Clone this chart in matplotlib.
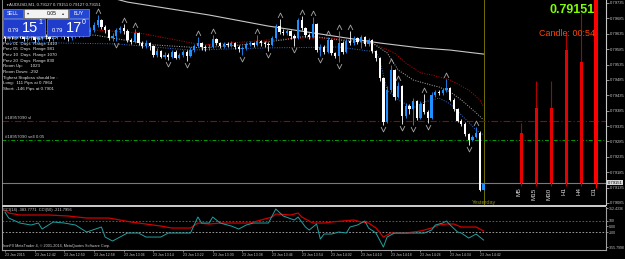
import matplotlib
matplotlib.use("Agg")
import matplotlib.pyplot as plt
from matplotlib.patches import Rectangle
from matplotlib.path import Path

plt.rcParams['font.family'] = ['Liberation Sans', 'DejaVu Sans']

W, H = 625, 259

# AUDUSD M1, 23 Jan 2015, first bar 12:34 - prices in points (0.00001)
first_open = 79625
closes = [79621, 79628, 79625, 79631, 79628, 79618, 79621, 79625, 79615, 79621,
          79628, 79625, 79618, 79621, 79628, 79631, 79625, 79621, 79628, 79634,
          79631, 79638, 79641, 79647, 79664, 79680, 79657, 79647, 79621, 79628,
          79647, 79654, 79644, 79615, 79608, 79638, 79605, 79595, 79605, 79595,
          79566, 79579, 79560, 79566, 79560, 79576, 79556, 79566, 79576, 79563,
          79582, 79595, 79605, 79592, 79589, 79592, 79618, 79605, 79595, 79602,
          79599, 79605, 79592, 79586, 79589, 79602, 79605, 79599, 79612, 79605,
          79602, 79599, 79621, 79660, 79641, 79638, 79644, 79628, 79621, 79680,
          79654, 79631, 79625, 79667, 79582, 79592, 79576, 79615, 79573, 79563,
          79605, 79576, 79612, 79605, 79621, 79608, 79625, 79602, 79615, 79579,
          79556, 79491, 79348, 79452, 79517, 79430, 79465, 79368, 79400, 79391,
          79417, 79361, 79407, 79381, 79361, 79436, 79446, 79443, 79452, 79459,
          79420, 79391, 79352, 79342, 79309, 79290, 79300, 79312, 79127, 79151]
highs = [79634, 79634, 79634, 79638, 79638, 79634, 79628, 79631, 79628, 79628,
         79634, 79634, 79631, 79628, 79638, 79641, 79638, 79631, 79634, 79644,
         79641, 79647, 79651, 79657, 79673, 79696, 79683, 79664, 79651, 79638,
         79654, 79660, 79667, 79651, 79621, 79651, 79641, 79612, 79615, 79608,
         79599, 79589, 79582, 79576, 79573, 79582, 79582, 79573, 79582, 79582,
         79592, 79602, 79625, 79608, 79599, 79602, 79631, 79621, 79608, 79608,
         79608, 79612, 79608, 79599, 79595, 79608, 79612, 79608, 79631, 79615,
         79612, 79608, 79628, 79667, 79683, 79651, 79651, 79647, 79634, 79686,
         79693, 79657, 79638, 79690, 79670, 79602, 79599, 79625, 79618, 79576,
         79644, 79612, 79618, 79644, 79628, 79625, 79631, 79628, 79621, 79618,
         79582, 79560, 79495, 79465, 79534, 79521, 79478, 79468, 79410, 79407,
         79426, 79420, 79417, 79439, 79387, 79446, 79452, 79452, 79459, 79488,
         79462, 79426, 79394, 79358, 79348, 79312, 79306, 79332, 79319, 79151]
lows = [79612, 79615, 79618, 79618, 79621, 79612, 79612, 79615, 79608, 79608,
        79615, 79618, 79612, 79612, 79618, 79621, 79618, 79612, 79615, 79621,
        79625, 79625, 79631, 79634, 79641, 79657, 79651, 79638, 79615, 79612,
        79612, 79638, 79634, 79608, 79602, 79605, 79599, 79589, 79589, 79582,
        79560, 79560, 79556, 79553, 79550, 79556, 79553, 79553, 79560, 79547,
        79560, 79576, 79592, 79582, 79579, 79582, 79589, 79599, 79589, 79589,
        79592, 79592, 79586, 79576, 79566, 79582, 79595, 79592, 79595, 79595,
        79592, 79579, 79595, 79618, 79634, 79631, 79631, 79618, 79595, 79618,
        79647, 79625, 79618, 79621, 79576, 79563, 79569, 79573, 79566, 79556,
        79543, 79569, 79573, 79599, 79599, 79602, 79589, 79595, 79595, 79573,
        79547, 79481, 79338, 79345, 79446, 79420, 79426, 79342, 79361, 79374,
        79338, 79355, 79358, 79374, 79345, 79358, 79430, 79436, 79436, 79446,
        79417, 79384, 79348, 79335, 79303, 79274, 79287, 79296, 79124, 79127]
opens = [first_open] + closes[:-1]

up_fractals = [25, 32, 35, 52, 56, 68, 74, 80, 83, 87, 90, 93, 104, 106, 113, 119, 127]
down_fractals = [30, 44, 49, 64, 71, 78, 85, 90, 102, 107, 110, 114, 125]

slow_ma_bar = [28, 33, 55, 71, 90, 101, 112, 120, 129]
slow_ma = [79754, 79738, 79696, 79660, 79625, 79605, 79589, 79582, 79569]

upper_bar = [0, 24, 36, 53, 61, 71, 80, 88, 93, 99, 105, 108, 112, 115, 120, 125, 128, 129]
upper = [79638, 79647, 79638, 79599, 79605, 79615, 79621, 79621, 79615, 79605,
         79573, 79540, 79508, 79501, 79485, 79452, 79420, 79397]
middle_bar = [0, 24, 40, 53, 64, 75, 80, 84, 90, 99, 103, 106, 110, 112, 115, 117, 120, 123, 127, 129]
middle = [79621, 79631, 79599, 79589, 79599, 79615, 79625, 79625, 79615, 79605,
          79573, 79517, 79485, 79478, 79468, 79462, 79446, 79420, 79378, 79355]
lower_bar = [0, 30, 50, 70, 90, 100, 101, 103, 106, 110, 113, 117, 120, 123, 127, 129]
lower = [79608, 79602, 79582, 79589, 79592, 79576, 79550, 79452, 79420, 79394,
         79413, 79426, 79407, 79371, 79322, 79306]

cci50_bar = [0, 1, 4, 12, 17, 22, 28, 34, 36, 42, 45, 50, 52, 55, 58, 66, 68, 72, 73, 77,
             79, 80, 83, 86, 88, 91, 94, 96, 98, 100, 102, 104, 106, 108, 110, 112, 115,
             117, 119, 121, 123, 127, 129]
cci50 = [279, 228, 194, 194, 177, 143, 143, 75, 58, 7, -27, -27, 58, 41, 58, 58, 92, 160,
         211, 194, 228, 160, 58, 58, 75, 92, 109, 75, 58, -27, -180, -112, -112, -112,
         -95, -78, -27, 24, 41, 41, -10, -10, -78]
cci14_bar = [0, 1, 4, 7, 9, 10, 13, 16, 19, 22, 26, 27, 29, 31, 33, 36, 38, 42, 44, 47,
             50, 52, 53, 55, 56, 58, 61, 63, 65, 67, 71, 73, 75, 78, 79, 81, 82, 84, 85,
             86, 88, 90, 92, 93, 95, 97, 98, 100, 102, 103, 105, 106, 109, 113, 115, 116,
             118, 119, 120, 122, 123, 125, 127, 129]
cci14 = [245, 143, 58, 24, 58, -44, 75, 58, 24, -95, -10, -180, -248, -180, -112, -112,
         -180, -180, -112, -112, -112, 160, 58, 58, 160, 58, 7, -44, 24, 58, 58, 296, 177,
         109, 160, -10, -61, 41, -214, -129, -129, -95, -112, -10, 24, 92, -27, -112,
         -350, -180, -112, -112, -112, -112, -61, 24, 58, 92, 24, -95, -112, -197, -129,
         -231]

time_label_bars = [0, 8, 16, 24, 32, 40, 48, 56, 64, 72, 80, 88, 96, 104, 112, 120, 128]
time_labels = ["23 Jan 2015", "23 Jan 12:42", "23 Jan 12:50", "23 Jan 12:58", "23 Jan 13:06",
               "23 Jan 13:14", "23 Jan 13:22", "23 Jan 13:30", "23 Jan 13:38", "23 Jan 13:46",
               "23 Jan 13:54", "23 Jan 14:02", "23 Jan 14:10", "23 Jan 14:18", "23 Jan 14:26",
               "23 Jan 14:34", "23 Jan 14:42"]
price_ticks = [79735, 79685, 79635, 79585, 79535, 79485, 79435, 79385, 79335, 79285,
               79235, 79185, 79135, 79085]
cci_ticks = [312.4336, 100, 0, -100, -355.7998]
cci_tick_labels = ["312.4336", "100", "0.00", "-100", "-355.7998"]

tf_names = ["M5", "M15", "M30", "H1", "H4", "D1"]
tf_open = [79312, 79394, 79394, 79582, 79543, 79900]
tf_high = [79345, 79481, 79481, 79638, 79702, 79950]
tf_low = [79141, 79141, 79141, 79141, 79141, 79134]
tf_close = [79151, 79151, 79151, 79151, 79151, 79151]

sl_level = 79350
sell_level = 79290
bid = 79151

info_lines = ["Average Daily Range=1071", "Prev 01  Days  Range 1410", "Prev 05  Days  Range 981",
              "Prev 10  Days  Range 1070", "Prev 20  Days  Range 830", "Room Up:      1023",
              "Room Down: -292", "Tighest Stoploss should be :", "Long:  111 Pips at 0.7864",
              "Short: -146 Pips at 0.7901"]


def fx(x):
    return x / W


def fy(y):
    return 1 - y / H


fig = plt.figure(figsize=(W / 100, H / 100), dpi=100, facecolor='black')
ax = fig.add_axes([fx(2), fy(205), 604 / W, 205 / H], facecolor='black')
ax2 = fig.add_axes([fx(2), fy(250), 604 / W, 43 / H], facecolor='black')

# candles
for i in range(len(closes)):
    o, c = opens[i], closes[i]
    col = '#1e90ff' if c > o else 'white'
    ax.vlines(i, lows[i], highs[i], color=col, lw=0.6, zorder=3)
    ax.bar(i, max(abs(c - o), 1.5), bottom=min(o, c), width=0.62, color=col, lw=0, zorder=3)

# moving averages / bands
ax.plot(slow_ma_bar, slow_ma, color='#c8c8c8', lw=0.8, zorder=2)
ax.plot(upper_bar, upper, color='#d00000', lw=0.7, dashes=(1, 1.5), zorder=2)
ax.plot(middle_bar, middle, color='#b0b0b0', lw=0.7, dashes=(1, 1.5), zorder=2)
ax.plot(lower_bar, lower, color='#3070d0', lw=0.7, dashes=(1, 1.5), zorder=2)

# fractals
up_mk = Path([(-1, -1), (0, 1), (1, -1)], [Path.MOVETO, Path.LINETO, Path.LINETO])
dn_mk = Path([(-1, 1), (0, -1), (1, 1)], [Path.MOVETO, Path.LINETO, Path.LINETO])
ax.plot(up_fractals, [highs[i] + 14 for i in up_fractals], ls='none', marker=up_mk, ms=3.5,
        mfc='none', mec='#a8a8a8', mew=0.6, zorder=4)
ax.plot(down_fractals, [lows[i] - 14 for i in down_fractals], ls='none', marker=dn_mk, ms=3.5,
        mfc='none', mec='#a8a8a8', mew=0.6, zorder=4)

# order lines
ax.axhline(sl_level, color='#a00000', lw=0.8, dashes=(6, 2, 1, 2), zorder=1)
ax.axhline(sell_level, color='#00a000', lw=0.7, dashes=(4, 2, 1, 2), zorder=1)
ax.axhline(bid, color='#6e7b8b', lw=0.8, zorder=1)
ax.axvline(129, color='#707000', lw=0.7, zorder=0.5)
ax.text(0, sl_level + 4, "#18957090 sl", color='#c8c8c8', fontsize=3.2, va='bottom')
ax.text(0, sell_level + 4, "#18957090 sell 0.05", color='#c8c8c8', fontsize=3.2, va='bottom')

# multi-timeframe candles
for k, name in enumerate(tf_names):
    pos = 139.2 + 4.04 * k
    big = name == "D1"
    ax.vlines(pos, tf_low[k], tf_high[k], color='#ff0000' if big else '#b00000', lw=0.8, zorder=3)
    ax.bar(pos, tf_open[k] - tf_close[k], bottom=tf_close[k], width=1.1 if big else 0.8,
           color='#ff0000' if big else '#e60000', lw=0, zorder=3)
    ax.text(pos - 0.7, 79136, name, rotation=90, ha='center', va='top', color='#e0e0e0', fontsize=4.5)

ax.set_xlim(-0.8, 162.0)
ax.set_ylim(79078.5, 79744.75)
ax.set_xticks([])
ax.yaxis.tick_right()
ax.set_yticks(price_ticks)
ax.set_yticklabels([f"{p / 1e5:.5f}" for p in price_ticks])
ax.tick_params(axis='y', colors='#c8c8c8', labelsize=3, length=2, width=0.5, pad=1)
for s in ['top', 'bottom']:
    ax.spines[s].set_visible(False)
ax.spines['left'].set_color('#a0a0a0')
ax.spines['left'].set_linewidth(0.6)
ax.spines['right'].set_color('#c8c8c8')
ax.spines['right'].set_linewidth(0.8)
ax.annotate(f"{bid / 1e5:.5f}", xy=(1.0, bid), xycoords=('axes fraction', 'data'),
            xytext=(1.5, 0), textcoords='offset points', fontsize=3, color='black',
            va='center', ha='left', annotation_clip=False,
            bbox=dict(boxstyle='square,pad=0.15', fc='#d8d8d8', ec='none'))

# CCI panel
ax2.axhline(100, color='#d04020', lw=0.6, dashes=(2, 2))
ax2.axhline(-100, color='#b0b0b0', lw=0.6, dashes=(2, 2))
ax2.plot(cci50_bar, cci50, color='#d00000', lw=0.9)
ax2.plot(cci14_bar, cci14, color='#20a0a0', lw=0.7)
ax2.set_xlim(-0.8, 162.0)
ax2.set_ylim(-400, 330)
ax2.set_xticks(time_label_bars)
ax2.set_xticklabels(time_labels, ha='left')
ax2.tick_params(axis='x', colors='#c8c8c8', labelsize=2.5, length=1.5, width=0.4, pad=1)
ax2.yaxis.tick_right()
ax2.set_yticks(cci_ticks)
ax2.set_yticklabels(cci_tick_labels)
ax2.tick_params(axis='y', colors='#c8c8c8', labelsize=2.5, length=1.5, width=0.5, pad=0.6)
ax2.spines['top'].set_visible(False)
for s in ['left', 'right', 'bottom']:
    ax2.spines[s].set_color('#a0a0a0')
    ax2.spines[s].set_linewidth(0.8)

# separator between panels
fig.add_artist(Rectangle((fx(2), fy(207)), 604 / W, 2 / H, transform=fig.transFigure,
                         color='#c8c8c8', lw=0))

# texts
fig.text(fx(3), fy(210), "CCI(14) -383.7771  CCI(50) -211.7956", color='#d0d0d0', fontsize=2.9, va='center')
fig.text(fx(3), fy(246.5), "IronFX MetaTrader 4, \u00a9 2001-2014, MetaQuotes Software Corp.",
         color='#d0d0d0', fontsize=2.7, va='center')
fig.text(fx(484), fy(202.5), "Yesterday", color='#8c8c1c', fontsize=4, ha='center', va='center')
fig.text(fx(595), fy(10), "0.79151", color='#7fff00', fontsize=9, fontweight='bold', ha='right', va='center')
fig.text(fx(595), fy(33), "Candle: 00:54", color='#ff4500', fontsize=6.4, ha='right', va='center')
fig.text(fx(5), fy(5), "\u25bc", color='#d0d0d0', fontsize=2.4, va='center')
fig.text(fx(9), fy(5), "AUDUSD,M1, 0.79127 0.79151 0.79127 0.79151", color='#e0e0e0', fontsize=3.1, va='center')
for k, line in enumerate(info_lines):
    fig.text(fx(3), fy(38 + 5.65 * k), line, color='#e6e6e6', fontsize=3.2, va='center')

# one-click trading panel
def box(x0, y0, x1, y1, fc, ec):
    fig.add_artist(Rectangle((fx(x0), fy(y1)), (x1 - x0) / W, (y1 - y0) / H,
                             transform=fig.transFigure, fc=fc, ec=ec, lw=0.5))

box(3, 9, 23, 18, '#2446d4', '#7090ff')
box(24, 9, 68, 18, '#f2f2f2', '#808080')
box(69, 9, 89, 18, '#2446d4', '#7090ff')
box(3, 19, 45, 36, '#1f3ccc', '#6a88ff')
box(47, 19, 89, 36, '#1f3ccc', '#6a88ff')
fig.text(fx(13), fy(13.5), "SELL", color='white', fontsize=3.6, ha='center', va='center')
fig.text(fx(79), fy(13.5), "BUY", color='white', fontsize=3.6, ha='center', va='center')
fig.text(fx(28), fy(13.5), "\u25be", color='#303030', fontsize=3, ha='center', va='center')
fig.text(fx(63), fy(13.5), "\u25b4", color='#303030', fontsize=3, ha='center', va='center')
fig.text(fx(52), fy(13.5), "0.05", color='black', fontsize=3.6, ha='center', va='center')
fig.text(fx(8), fy(30), "0.79", color='white', fontsize=4.2, va='center')
fig.text(fx(22), fy(27.5), "15", color='white', fontsize=10.5, va='center')
fig.text(fx(38), fy(23), "1", color='white', fontsize=5, va='center')
fig.text(fx(52), fy(30), "0.79", color='white', fontsize=4.2, va='center')
fig.text(fx(66), fy(27.5), "17", color='white', fontsize=10.5, va='center')
fig.text(fx(82), fy(23), "0", color='white', fontsize=5, va='center')

fig.savefig("out.png", dpi=100, facecolor='black')
